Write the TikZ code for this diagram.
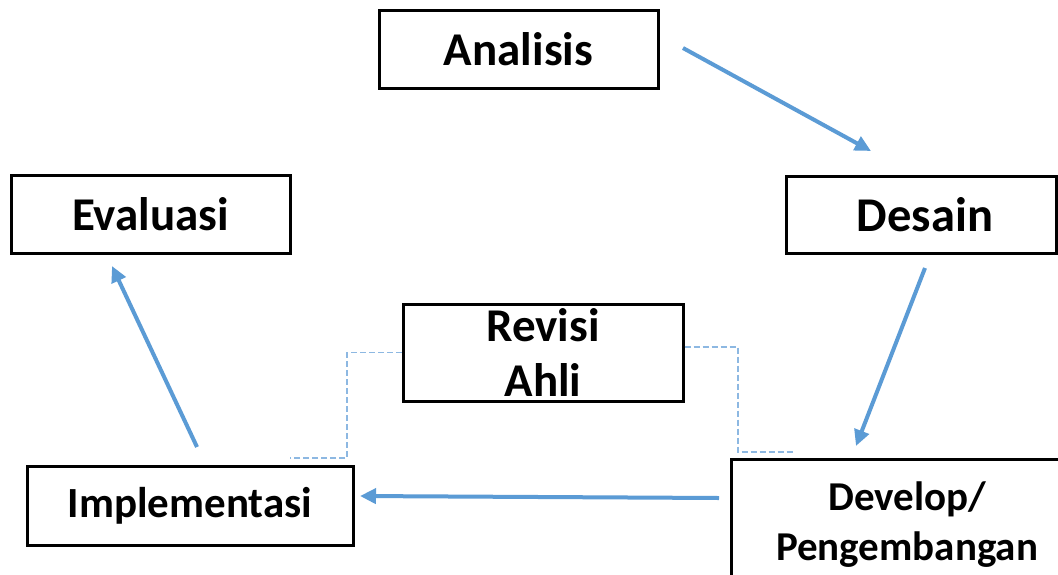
\documentclass[tikz,border=0pt]{standalone}
\usepackage{fontspec}
\setmainfont{Carlito}
\usetikzlibrary{arrows.meta}
\definecolor{arrowblue}{HTML}{5B9BD5}
\definecolor{linkblue}{HTML}{8DB8E2}
\begin{document}
\begin{tikzpicture}[x=1pt,y=-1pt,
  box/.style={draw=black, line width=3pt, rectangle, inner sep=0pt, align=center,
              font=\bfseries\fontsize{47}{55}\selectfont},
  smallbox/.style={box, font=\bfseries\fontsize{41}{50}\selectfont},
  flow/.style={draw=arrowblue, line width=4pt, -{Triangle[length=16pt,width=15pt]}},
  link/.style={draw=linkblue, line width=1.3pt, dash pattern=on 6pt off 3pt}]
\useasboundingbox (0,0) rectangle (1058,574);
\clip (0,0) rectangle (1058,574);
\fill[white] (0,0) rectangle (1058,574);
% boxes
\node[box, minimum width=279pt, minimum height=78pt] (ana) at (518.5,49) {Analisis};
\node[box, font=\bfseries\fontsize{48.5}{55}\selectfont, minimum width=270pt, minimum height=77pt] (des) at (921,214.5) {\hspace*{8pt}Desain};
\node[box, minimum width=279pt, minimum height=78pt] (eva) at (150.5,214) {Evaluasi};
\node[box, minimum width=280pt, minimum height=97pt] (rev) at (543,352.5) {Revisi\\Ahli};
\node[smallbox, font=\bfseries\fontsize{43}{50}\selectfont, minimum width=326pt, minimum height=79pt] (imp) at (190,506) {Implementasi};
\node[smallbox, minimum width=352pt, minimum height=132pt] (dev) at (907,525) {Develop/\\Pengembangan};
% arrow end points
\coordinate (a1s) at (683,48);  \coordinate (a1e) at (871,151);
\coordinate (a2s) at (925,268); \coordinate (a2e) at (856,446);
\coordinate (a3s) at (719,498); \coordinate (a3e) at (360,496);
\coordinate (a4s) at (197,447); \coordinate (a4e) at (112,266);
\draw[flow] (a1s) -- (a1e);
\draw[flow] (a2s) -- (a2e);
\draw[flow] (a3s) -- (a3e);
\draw[flow] (a4s) -- (a4e);
% dashed links
\coordinate (l1) at (290,458);
\coordinate (l2) at (795,452);
\draw[link] (rev.west) -- (347,352.5) -- (347,458) -- (l1);
\draw[link] ([yshift=5.5pt]rev.east) -- (738,347) -- (738,452) -- (l2);
\end{tikzpicture}
\end{document}
